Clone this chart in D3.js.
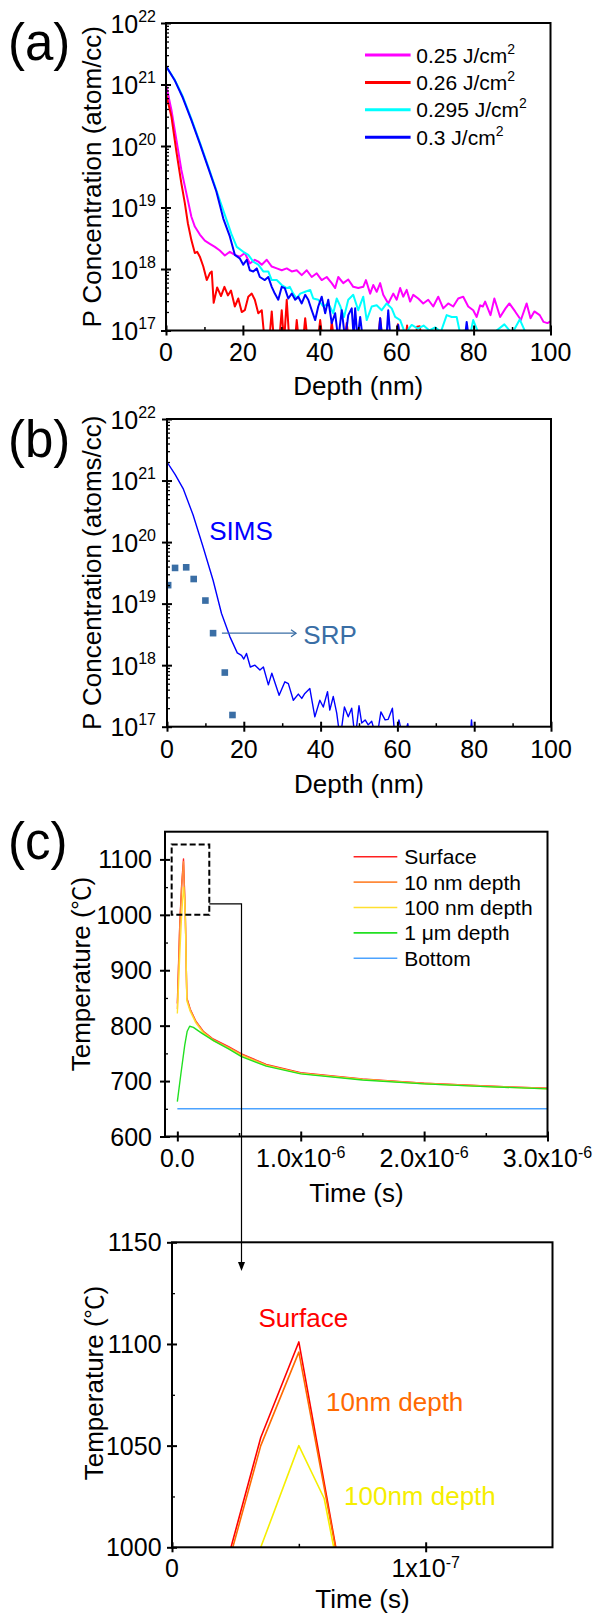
<!DOCTYPE html>
<html lang="en">
<head>
<meta charset="UTF-8">
<script src="https://d3js.org/d3.v7.min.js"></script>
<style>
  body { margin: 0; background: #fff; }
  svg { display: block; font-family: "Liberation Sans", Arial, sans-serif; }
</style>
</head>
<body>
<svg id="canvas" width="593" height="1613"></svg>
<script>
// ---------- (a) SIMS profiles, [depth nm, log10(atoms/cc)] ----------
const sims025 = [[0,21.0],[1.4,20.59],[2.7,20.1],[4.0,19.61],[5.3,19.23],[6.6,18.85],[7.5,18.69],[8.8,18.56],[10.1,18.46],[11.4,18.41],[12.7,18.36],[14.0,18.3],[15.3,18.22],[16.6,18.28],[17.9,18.23],[19.2,18.2],[20.5,18.26],[21.8,18.09],[23.1,18.15],[24.0,18.12],[24.9,18.07],[26.2,18.15],[27.5,18.04],[28.8,18.01],[30.1,17.98],[31.4,18.01],[32.7,17.96],[34.0,17.98],[35.3,17.9],[36.6,17.98],[37.9,17.87],[39.2,17.93],[40.5,17.82],[41.8,17.87],[43.1,17.77],[44.0,17.69],[44.8,17.87],[46.1,17.77],[47.4,17.83],[48.7,17.71],[50.0,17.69],[51.3,17.71],[52.0,17.82],[53.1,17.6],[53.9,17.74],[54.8,17.63],[55.7,17.77],[56.5,17.58],[57.8,17.44],[59.1,17.6],[60.0,17.5],[60.9,17.69],[61.7,17.55],[62.6,17.66],[63.5,17.47],[64.3,17.58],[65.6,17.52],[66.9,17.44],[68.2,17.5],[69.5,17.39],[70.8,17.55],[72.1,17.36],[73.4,17.44],[74.7,17.39],[76.0,17.52],[77.3,17.55],[78.6,17.39],[79.9,17.33],[80.8,17.22],[81.7,17.41],[82.4,17.39],[83.0,17.47],[84.4,17.25],[85.4,17.52],[86.9,17.22],[88.3,17.36],[89.3,17.44],[90.8,17.31],[92.3,17.17],[93.8,17.44],[94.8,17.2],[95.8,17.31],[97.2,17.25],[98.2,17.14],[99.2,17.12],[100,17.15]];
const sims026 = [[0,20.85],[1.4,20.48],[2.7,19.91],[4.0,19.39],[4.9,19.07],[5.7,18.74],[6.6,18.47],[7.5,18.26],[8.1,18.28],[8.8,18.2],[9.7,18.04],[10.6,17.82],[11.4,17.93],[11.9,17.96],[12.4,17.45],[13.3,17.7],[14.3,17.56],[15.2,17.71],[16.1,17.57],[16.9,17.65],[17.9,17.39],[18.8,17.52],[19.7,17.3],[20.5,17.33],[21.4,17.55],[22.3,17.6],[23.1,17.5],[24.0,17.28],[24.9,17.33],[25.7,16.8],[26.8,16.8],[27.5,17.31],[28.1,16.8],[29.4,16.8],[30.1,17.33],[30.7,16.8],[31.4,17.5],[32.1,16.8],[33.5,16.8],[34.0,17.17],[34.6,16.8],[35.6,16.8],[36.2,17.2],[36.9,16.8],[39.4,16.8],[40.1,17.17],[40.8,16.8],[42.6,16.8],[43.1,17.14],[43.8,16.8],[46.4,16.8],[47.0,17.12],[47.6,16.8],[55.1,16.8],[55.7,17.2],[56.3,16.8],[59.7,16.8],[60.3,17.1],[60.9,16.8],[62.2,16.8],[62.7,17.08],[63.2,16.8],[64.8,16.8],[65.3,17.06],[66.0,17.07],[66.6,16.8],[100,16.8]];
const sims0295 = [[0,21.3],[2.25,21.08],[4.4,20.8],[6.6,20.44],[8.8,20.06],[10.9,19.68],[13.1,19.28],[15.3,18.88],[17.0,18.57],[18.4,18.36],[20.1,18.28],[21.4,18.23],[22.7,18.12],[24.0,18.07],[25.3,17.96],[26.6,17.96],[27.5,17.82],[28.8,17.82],[30.1,17.74],[31.4,17.69],[32.2,17.71],[33.1,17.6],[34.0,17.52],[34.9,17.6],[36.2,17.63],[37.5,17.66],[38.3,17.52],[39.6,17.5],[40.9,17.39],[42.2,17.44],[43.5,17.28],[44.4,17.52],[45.3,17.4],[46.3,17.22],[47.4,17.5],[48.7,17.58],[50.0,17.33],[51.3,17.55],[52.2,17.17],[53.5,17.39],[54.8,17.41],[56.1,17.33],[57.4,17.44],[58.7,17.36],[59.6,17.22],[60.9,17.17],[62.2,16.95],[63.9,17.09],[65.5,17.03],[67.0,17.08],[68.5,17.0],[70.0,17.05],[71.5,16.98],[73.0,17.25],[74.3,17.22],[75.6,17.22],[76.5,16.95],[77.5,17.0],[79.0,16.9],[79.9,17.17],[81.0,17.0],[84.0,16.9],[88.0,17.1],[90.0,16.95],[92.0,17.18],[94.0,16.9],[100,16.85]];
const sims030 = [[0,21.3],[2.25,21.07],[4.4,20.78],[6.6,20.42],[8.8,20.04],[10.9,19.66],[13.1,19.26],[14.9,18.82],[16.6,18.53],[17.9,18.23],[19.2,18.17],[20.1,18.07],[21.0,18.15],[21.8,17.98],[22.7,17.96],[23.6,18.01],[24.4,17.87],[25.7,17.82],[26.6,17.87],[27.5,17.71],[28.3,17.6],[29.2,17.5],[30.1,17.71],[30.9,17.69],[31.8,17.52],[32.7,17.6],[33.6,17.5],[34.4,17.55],[35.3,17.44],[36.2,17.58],[37.0,17.5],[37.9,17.33],[38.8,17.17],[39.6,17.39],[40.5,17.55],[41.4,17.28],[42.2,17.5],[43.1,17.12],[44.0,17.28],[44.8,16.85],[45.7,17.33],[46.6,16.85],[47.4,17.25],[48.3,17.36],[48.8,16.9],[49.2,17.36],[49.8,16.85],[50.5,17.22],[51.2,16.85],[55.2,16.85],[55.7,17.2],[56.3,16.85],[57.3,16.85],[57.8,17.33],[58.4,16.85],[59.9,16.85],[60.4,17.09],[60.9,16.85],[77.7,16.85],[78.2,17.14],[78.8,16.85],[100,16.85]];
const legendA = ["0.25 J/cm", "0.26 J/cm", "0.295 J/cm", "0.3 J/cm"];
const colorsA = ["#ff00ff", "#ff0000", "#00ffff", "#0000ff"];

// ---------- (b) SIMS vs SRP ----------
const simsB = [[0,21.3],[2.1,21.1],[4.2,20.87],[6.8,20.44],[9.4,19.92],[12.0,19.38],[14.2,18.84],[16.4,18.46],[18.3,18.2],[19.4,18.16],[20.0,18.1],[20.7,18.19],[21.7,17.97],[22.9,18.0],[24.2,17.92],[25.1,17.97],[26.4,17.68],[27.3,17.87],[29.2,17.51],[30.7,17.73],[31.6,17.7],[32.9,17.43],[34.2,17.53],[35.1,17.46],[35.9,17.54],[37.2,17.62],[38.5,17.16],[39.8,17.43],[40.7,17.32],[41.8,17.57],[42.4,17.27],[43.3,17.49],[44.2,17.22],[45.1,16.8],[46.2,17.32],[47.2,17.16],[48.1,17.3],[49.0,16.8],[50.0,17.34],[50.7,17.06],[51.6,17.11],[52.4,17.03],[53.3,17.09],[54.6,16.8],[55.7,17.24],[56.8,17.11],[57.6,17.12],[58.7,17.3],[59.4,16.8],[60.4,17.11],[61.5,16.8],[62.7,17.05],[63.3,16.8],[78.9,16.8],[79.3,17.11],[79.7,16.8],[100,16.8]];
const srpB = [[0.3,19.3],[2.1,19.58],[5.0,19.59],[6.95,19.4],[10.0,19.05],[12.0,18.52],[15.05,17.88],[17.05,17.19]];

// shared tick values / labels for (a) and (b)
const depthMajor = [0, 20, 40, 60, 80, 100];
const depthMinor = [10, 30, 50, 70, 90];
const logExp = [17, 18, 19, 20, 21, 22];

// ---------- (c) temperature, [time ns, T degC] ----------
const tSurface = [[0,840],[20,985],[35,1054],[50,1101],[65,997],[77,850],[104,830],[150,808],[210,790],[290,776],[415,762],[520,749],[720,730],[1000,715],[1500,704],[2000,696],[2500,691],[3000,687]];
const t10nm = [[0,830],[20,982],[35,1050],[50,1096],[65,996],[77,849],[104,829],[150,807],[210,789],[290,775],[415,761],[520,748],[720,729],[1000,714],[1500,703],[2000,696],[2500,691],[3000,687]];
const t100nm = [[0,822],[20,930],[35,1000],[50,1050],[60,1024],[65,992],[77,845],[104,826],[150,805],[210,787],[290,773],[415,759],[520,746],[720,728],[1000,714],[1500,703],[2000,695],[2500,690],[3000,686]];
const t1um = [[0,663],[30,715],[60,765],[80,790],[100,799],[130,797],[200,786],[300,772],[415,758],[520,744],[720,727],[1000,713],[1500,702],[2000,695],[2500,690],[3000,686]];
const tBottom = [[0,650],[3000,650]];
const legendC = ["Surface", "10 nm depth", "100 nm depth", "1 \u03bcm depth", "Bottom"];
const colorsC = ["#ff2020", "#ff8a3a", "#ffe030", "#22e022", "#4da3ff"];
const cXMajor = [0, 1000, 2000, 3000];
const cXMinor = [500, 1500, 2500];
const cXLabels = [["0.0", ""], ["1.0x10", "-6"], ["2.0x10", "-6"], ["3.0x10", "-6"]];
const cYMajor = [600, 700, 800, 900, 1000, 1100];
const cYMinor = [650, 750, 850, 950, 1050];

// zoomed window
const zoomBox = [[-46, 1000], [259, 1127]];
const dXMajor = [0, 100];
const dXMinor = [50];
const dXLabels = [["0", ""], ["1x10", "-7"]];
const dYMajor = [1000, 1050, 1100, 1150];
const dYMinor = [1025, 1075, 1125];
const colorsD = ["#ff0000", "#ff6a00", "#f5ee00"];
const labelsD = ["Surface", "10nm depth", "100nm depth"];

// ---------------------------------------------------------------
const svg = d3.select("#canvas");
svg.append("rect").attr("width", 593).attr("height", 1613).attr("fill", "#fff");

const A = { left: 166, right: 550.5, top: 23, bottom: 330.5 };
const B = { left: 167, right: 551, top: 419, bottom: 726.7 };
const C = { left: 165, right: 547.5, top: 831.7, bottom: 1136.5 };
const D = { left: 172, right: 552.5, top: 1242.3, bottom: 1547.3 };

function clip(id, p) {
  svg.append("clipPath").attr("id", id).append("rect")
    .attr("x", p.left).attr("y", p.top)
    .attr("width", p.right - p.left).attr("height", p.bottom - p.top);
}

function frame(p) {
  svg.append("rect").attr("x", p.left).attr("y", p.top)
    .attr("width", p.right - p.left).attr("height", p.bottom - p.top)
    .attr("fill", "none").attr("stroke", "#000").attr("stroke-width", 2);
}

function xTicks(p, scale, major, minor) {
  const a = svg.append("g").attr("transform", `translate(0,${p.bottom})`)
    .call(d3.axisBottom(scale).tickValues(major).tickFormat("").tickSizeOuter(0));
  a.select(".domain").remove();
  a.selectAll(".tick line").attr("y1", -5).attr("y2", 5).attr("stroke-width", 2);
  const b = svg.append("g").attr("transform", `translate(0,${p.bottom})`)
    .call(d3.axisBottom(scale).tickValues(minor).tickFormat("").tickSize(-3.5).tickSizeOuter(0));
  b.select(".domain").remove();
  b.selectAll(".tick line").attr("stroke-width", 1.5);
}

function yTicks(p, scale, major, minor) {
  const a = svg.append("g").attr("transform", `translate(${p.left},0)`)
    .call(d3.axisLeft(scale).tickValues(major).tickFormat("").tickSizeOuter(0));
  a.select(".domain").remove();
  a.selectAll(".tick line").attr("x1", -5).attr("x2", 5).attr("stroke-width", 2);
  const b = svg.append("g").attr("transform", `translate(${p.left},0)`)
    .call(d3.axisLeft(scale).tickValues(minor).tickFormat("").tickSize(-3).tickSizeOuter(0));
  b.select(".domain").remove();
  b.selectAll(".tick line").attr("stroke-width", 1.3);
}

// text with an optional superscript
function supText(x, y, base, sup, opts) {
  const o = Object.assign({ size: 25, supSize: 16, raise: 11, anchor: "middle", fill: "#000" }, opts);
  const t = svg.append("text").attr("x", x).attr("y", y)
    .attr("font-size", o.size).attr("text-anchor", o.anchor).attr("fill", o.fill);
  t.append("tspan").text(base);
  if (sup) t.append("tspan").attr("font-size", o.supSize).attr("dy", -o.raise).text(sup);
  return t;
}

function yTitle(x, y, text, unit) {
  const t = svg.append("text").attr("transform", `translate(${x},${y}) rotate(-90)`)
    .attr("text-anchor", "middle").attr("font-size", 26);
  t.append("tspan").text(text);
  if (unit) {
    t.append("tspan").attr("font-family", "'Noto Sans CJK SC', sans-serif").attr("font-size", 24).text(unit);
    t.append("tspan").text(")");
  }
}

function xTitle(x, y, text) {
  svg.append("text").attr("x", x).attr("y", y)
    .attr("text-anchor", "middle").attr("font-size", 26).text(text);
}

function tag(y, text) {
  svg.append("text").attr("x", 8).attr("y", y).attr("font-size", 51).text(text);
}

// ---------------- panel (a) ----------------
const xA = d3.scaleLinear().domain([0, 100]).range([A.left, A.right]);
const yA = d3.scaleLog().domain([1e17, 1e22]).range([A.bottom, A.top]);
const lineA = d3.line().x(d => xA(d[0])).y(d => yA(10 ** d[1]));
clip("clipA", A);

const gA = svg.append("g").attr("clip-path", "url(#clipA)");
[sims025, sims026, sims0295, sims030].forEach((s, i) => {
  gA.append("path").attr("d", lineA(s)).attr("fill", "none")
    .attr("stroke", colorsA[i]).attr("stroke-width", 2).attr("stroke-linejoin", "round");
});

const logMinor = yA.ticks().filter(v => Math.abs(Math.log10(v) - Math.round(Math.log10(v))) > 1e-6);
const logMajor = logExp.map(e => 10 ** e);
frame(A);
xTicks(A, xA, depthMajor, depthMinor);
yTicks(A, yA, logMajor, logMinor);

depthMajor.forEach(v => supText(xA(v), 360.7, String(v), ""));
logExp.forEach(e => supText(156, yA(10 ** e) + 9.5, "10", String(e), { anchor: "end" }));
yTitle(101, (A.top + A.bottom) / 2, "P Concentration (atom/cc)");
xTitle(xA(50), 395, "Depth (nm)");
tag(59.5, "(a)");

legendA.forEach((lab, i) => {
  const y = 55 + i * 27.4;
  svg.append("line").attr("x1", 365).attr("x2", 410.6).attr("y1", y).attr("y2", y)
    .attr("stroke", colorsA[i]).attr("stroke-width", 3);
  supText(416.3, y + 7.5, lab, "2", { size: 21, supSize: 14, raise: 9, anchor: "start" });
});

// ---------------- panel (b) ----------------
const xB = d3.scaleLinear().domain([0, 100]).range([B.left, B.right]);
const yB = d3.scaleLog().domain([1e17, 1e22]).range([B.bottom, B.top]);
const lineB = d3.line().x(d => xB(d[0])).y(d => yB(10 ** d[1]));
clip("clipB", B);

const gB = svg.append("g").attr("clip-path", "url(#clipB)");
gB.append("path").attr("d", lineB(simsB)).attr("fill", "none")
  .attr("stroke", "#0000ff").attr("stroke-width", 1.4).attr("stroke-linejoin", "round");
gB.selectAll("rect.srp").data(srpB).join("rect").attr("class", "srp")
  .attr("x", d => xB(d[0]) - 3.3).attr("y", d => yB(10 ** d[1]) - 3.3)
  .attr("width", 6.6).attr("height", 6.6).attr("fill", "#3a6ea5");

frame(B);
xTicks(B, xB, depthMajor, depthMinor);
yTicks(B, yB, logMajor, logMinor);
depthMajor.forEach(v => supText(xB(v), 757.7, String(v), ""));
logExp.forEach(e => supText(156, yB(10 ** e) + 9.5, "10", String(e), { anchor: "end" }));
yTitle(101, (B.top + B.bottom) / 2, "P Concentration (atoms/cc)");
xTitle(xB(50), 793.3, "Depth (nm)");
tag(456.5, "(b)");

svg.append("text").attr("x", xB(11)).attr("y", 540).attr("font-size", 26)
  .attr("fill", "#0000ff").text("SIMS");
// SRP arrow
const arrY = yB(10 ** 18.52);
svg.append("line").attr("x1", xB(14.3)).attr("x2", xB(33.6)).attr("y1", arrY).attr("y2", arrY)
  .attr("stroke", "#3a6ea5").attr("stroke-width", 1.3);
svg.append("path").attr("d", `M${xB(33.6) - 5},${arrY - 3.5} L${xB(33.6)},${arrY} L${xB(33.6) - 5},${arrY + 3.5}`)
  .attr("fill", "none").attr("stroke", "#3a6ea5").attr("stroke-width", 1.3);
svg.append("text").attr("x", xB(35.5)).attr("y", arrY + 11).attr("font-size", 26)
  .attr("fill", "#3a6ea5").text("SRP");

// ---------------- panel (c) ----------------
const xC = d3.scaleLinear().domain([-100, 3000]).range([C.left, C.right]);
const yC = d3.scaleLinear().domain([600, 1150]).range([C.bottom, C.top]);
const lineC = d3.line().x(d => xC(d[0])).y(d => yC(d[1]));
clip("clipC", C);

const gC = svg.append("g").attr("clip-path", "url(#clipC)");
[tSurface, t10nm, t100nm, t1um, tBottom].forEach((s, i) => {
  gC.append("path").attr("d", lineC(s)).attr("fill", "none")
    .attr("stroke", colorsC[i]).attr("stroke-width", 1.4).attr("stroke-linejoin", "round");
});

frame(C);
xTicks(C, xC, cXMajor, cXMinor);
yTicks(C, yC, cYMajor, cYMinor);
cXMajor.forEach((v, i) => supText(xC(v), 1166.7, cXLabels[i][0], cXLabels[i][1], { raise: 9 }));
cYMajor.forEach(v => supText(152, yC(v) + 9, String(v), "", { anchor: "end" }));
yTitle(89.5, 974, "Temperature (", "\u2103");
xTitle(356.5, 1201.7, "Time (s)");
tag(858.5, "(c)");

legendC.forEach((lab, i) => {
  const y = 856.7 + i * 25.4;
  svg.append("line").attr("x1", 353.6).attr("x2", 397.3).attr("y1", y).attr("y2", y)
    .attr("stroke", colorsC[i]).attr("stroke-width", 1.6);
  svg.append("text").attr("x", 404.2).attr("y", y + 7.5).attr("font-size", 21).text(lab);
});

// dashed zoom window + connector
const bx0 = xC(zoomBox[0][0]), bx1 = xC(zoomBox[1][0]);
const by0 = yC(zoomBox[1][1]), by1 = yC(zoomBox[0][1]);
svg.append("rect").attr("x", bx0).attr("y", by0).attr("width", bx1 - bx0).attr("height", by1 - by0)
  .attr("fill", "none").attr("stroke", "#000").attr("stroke-width", 2).attr("stroke-dasharray", "6,3");
const connX = xC(520), connY = yC(1019.7), tipY = 1271;
svg.append("path").attr("d", `M${bx1},${connY} H${connX} V${tipY - 6}`)
  .attr("fill", "none").attr("stroke", "#000").attr("stroke-width", 1.2);
svg.append("path").attr("d", `M${connX - 3.5},${tipY - 9} L${connX + 3.5},${tipY - 9} L${connX},${tipY} Z`)
  .attr("fill", "#000");

// ---------------- zoomed peak ----------------
const xD = d3.scaleLinear().domain([0, 150]).range([D.left, D.right]);
const yD = d3.scaleLinear().domain([1000, 1150]).range([D.bottom, D.top]);
const lineD = d3.line().x(d => xD(d[0])).y(d => yD(d[1]));
clip("clipD", D);

const gD = svg.append("g").attr("clip-path", "url(#clipD)");
[tSurface, t10nm, t100nm].forEach((s, i) => {
  gD.append("path").attr("d", lineD(s)).attr("fill", "none")
    .attr("stroke", colorsD[i]).attr("stroke-width", 1.6).attr("stroke-linejoin", "round");
});

frame(D);
xTicks(D, xD, dXMajor, dXMinor);
yTicks(D, yD, dYMajor, dYMinor);
dXMajor.forEach((v, i) => supText(xD(v), 1576.7, dXLabels[i][0], dXLabels[i][1], { raise: 9 }));
dYMajor.forEach(v => supText(161.6, yD(v) + 9, String(v), "", { anchor: "end" }));
yTitle(102.5, 1383, "Temperature (", "\u2103");
xTitle(362.5, 1608, "Time (s)");

svg.append("text").attr("x", 258.5).attr("y", 1326.7).attr("font-size", 26).attr("fill", colorsD[0]).text(labelsD[0]);
svg.append("text").attr("x", 326).attr("y", 1410.7).attr("font-size", 26).attr("fill", colorsD[1]).text(labelsD[1]);
svg.append("text").attr("x", 344).attr("y", 1505).attr("font-size", 26).attr("fill", colorsD[2]).text(labelsD[2]);
</script>
</body>
</html>
